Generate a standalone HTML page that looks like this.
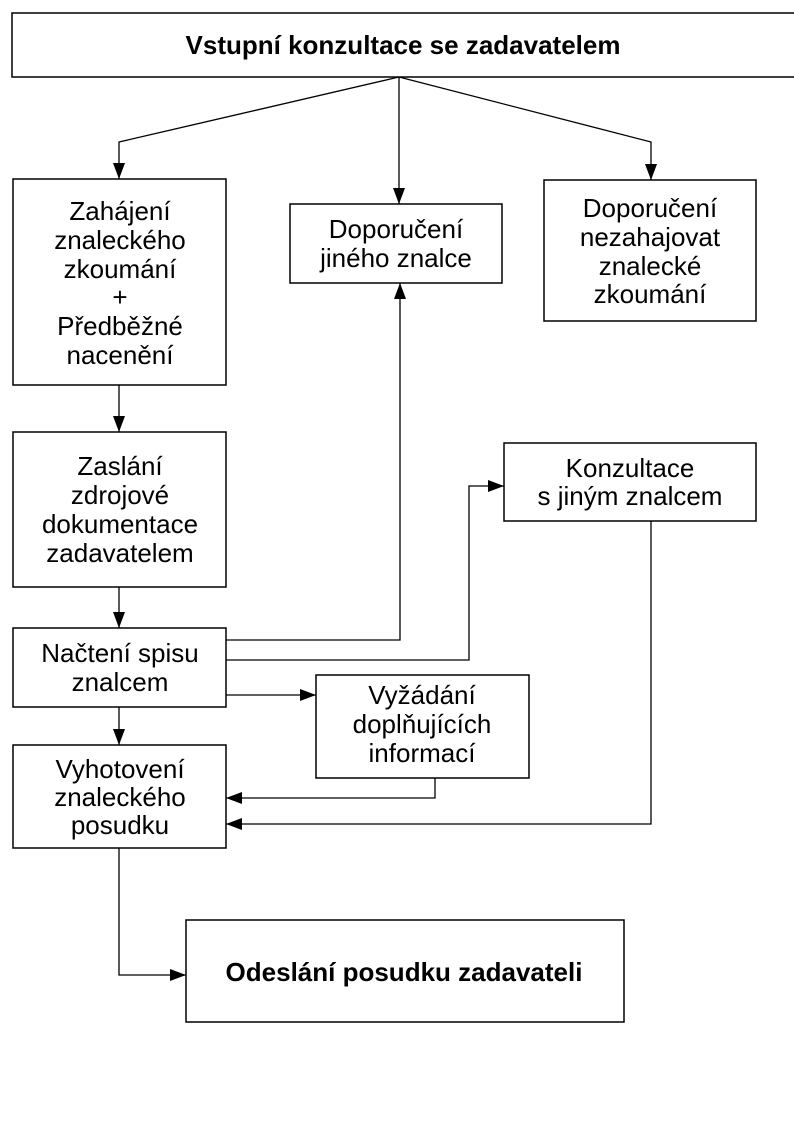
<!DOCTYPE html>
<html><head><meta charset="utf-8"><style>body{margin:0;background:#fff}svg{display:block}</style></head><body>
<svg width="794" height="1123" xmlns="http://www.w3.org/2000/svg" font-family="Liberation Sans, sans-serif" font-size="26" text-anchor="middle">
<defs>
<marker id="b" markerWidth="16" markerHeight="12" refX="16" refY="6" orient="auto" markerUnits="userSpaceOnUse"><path d="M0,0 L16,6 L0,12z" fill="#000"/></marker></defs>
<g fill="none" stroke="#000" stroke-width="1.5">
<rect x="12" y="13" width="790" height="64"/>
<rect x="13" y="179" width="213" height="206"/>
<rect x="290" y="204" width="212" height="79"/>
<rect x="544" y="180" width="212" height="141"/>
<rect x="13" y="432" width="213" height="155"/>
<rect x="504" y="443" width="252" height="78"/>
<rect x="13" y="628" width="213" height="79"/>
<rect x="316" y="675" width="213" height="103"/>
<rect x="13" y="745" width="213" height="103"/>
<rect x="186" y="920" width="438" height="102"/>
</g>
<g fill="none" stroke="#000" stroke-width="1.3" marker-end="url(#b)">
<polyline points="399,77 119,142 119,179"/>
<polyline points="399,77 399,204"/>
<polyline points="399,77 651,142 651,180"/>
<polyline points="119,385 119,432"/>
<polyline points="119,587 119,628"/>
<polyline points="226,640 400,640 400,283"/>
<polyline points="226,660 469,660 469,486 504,486"/>
<polyline points="226,695 316,695"/>
<polyline points="119,707 119,745"/>
<polyline points="435,778 435,798 226,798"/>
<polyline points="651,521 651,824 226,824"/>
<polyline points="119,848 119,975 186,975"/>
</g>
<g dominant-baseline="central">
<text x="403" y="45" font-weight="bold">Vstupní konzultace se zadavatelem</text>
<text x="120" y="211">Zahájení</text><text x="120" y="240">znaleckého</text><text x="120" y="269">zkoumání</text><text x="120" y="297">+</text><text x="120" y="326">Předběžné</text><text x="120" y="355">nacenění</text>
<text x="396" y="229">Doporučení</text><text x="396" y="258">jiného znalce</text>
<text x="650" y="208">Doporučení</text><text x="650" y="237">nezahajovat</text><text x="650" y="266">znalecké</text><text x="650" y="294">zkoumání</text>
<text x="120" y="466">Zaslání</text><text x="120" y="495">zdrojové</text><text x="120" y="524">dokumentace</text><text x="120" y="553">zadavatelem</text>
<text x="630" y="468">Konzultace</text><text x="630" y="496">s jiným znalcem</text>
<text x="120" y="653">Načtení spisu</text><text x="120" y="682">znalcem</text>
<text x="422" y="695">Vyžádání</text><text x="422" y="724">doplňujících</text><text x="422" y="753">informací</text>
<text x="120" y="769">Vyhotovení</text><text x="120" y="797">znaleckého</text><text x="120" y="825">posudku</text>
<text x="404" y="972" font-weight="bold">Odeslání posudku zadavateli</text>
</g>
</svg>
</body></html>
